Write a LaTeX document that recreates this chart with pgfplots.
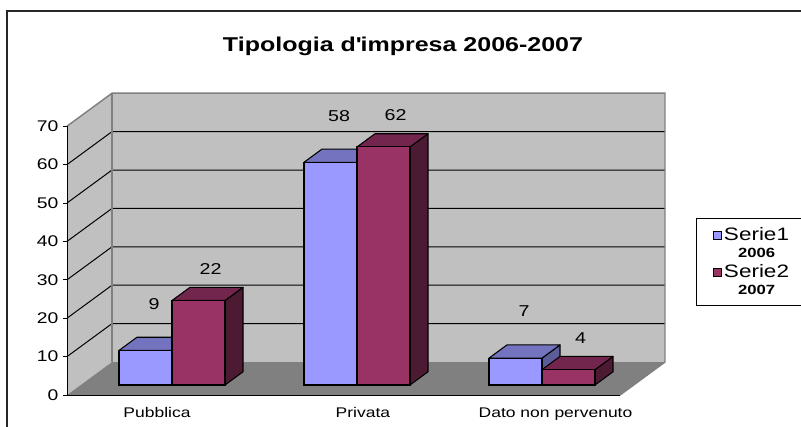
\documentclass[border=0pt]{standalone}
\usepackage{fontspec}
\setmainfont{Liberation Sans}[FakeStretch=1.25]
\usepackage{pgfplots}
\usepackage{pgfplotstable}
\pgfplotsset{compat=1.18}

\definecolor{sAfront}{HTML}{9999FF}
\definecolor{sAtop}{HTML}{7373BF}
\definecolor{sAside}{HTML}{5C5C99}
\definecolor{sBfront}{HTML}{993366}
\definecolor{sBtop}{HTML}{73264D}
\definecolor{sBside}{HTML}{4D1A33}
\definecolor{wall}{HTML}{C0C0C0}
\definecolor{floorc}{HTML}{808080}

\pgfplotstableread{
x s1 s2
0 9 22
1 58 62
2 7 4
}\datatable

% geometry (axis units)
\def\bw{0.2865}
\def\ddx{0.0973}
\def\ddy{3.44}

\newcommand\facesfor[4]{%
  \pgfplotsforeachungrouped \r in {0,1,2}{%
    \pgfplotstablegetelem{\r}{#1}\of\datatable
    \pgfmathsetmacro\v{\pgfplotsretval}%
    \pgfmathsetmacro\a{\r+#2}%
    \pgfmathsetmacro\b{\a+\bw}%
    \pgfmathsetmacro\ad{\a+\ddx}%
    \pgfmathsetmacro\bd{\b+\ddx}%
    \pgfmathsetmacro\vd{\v+\ddy}%
    \edef\temp{\noexpand\addplot[fill=#4,draw=black,line width=0.8pt,line join=round,forget plot] coordinates {(\b,0) (\b,\v) (\bd,\vd) (\bd,\ddy)} --cycle;
      \noexpand\addplot[fill=#3,draw=black,line width=0.8pt,line join=round,forget plot] coordinates {(\a,\v) (\ad,\vd) (\bd,\vd) (\b,\v)} --cycle;}%
    \temp
  }}
\newcommand\legname[1]{\makebox[52pt][l]{#1}}
\newcommand\legyear[1]{\makebox[52pt][l]{\makebox[49pt][c]{\fontsize{10}{10}\selectfont\bfseries #1}}}

\begin{document}
\begin{tikzpicture}
\draw[line width=1.1pt, black!85] (5.25pt,311.25pt) rectangle (610pt,-10pt);
\node[font=\fontsize{15}{15}\selectfont\bfseries] at (302.25pt,284.5pt) {Tipologia d\textquotesingle impresa 2006-2007};
\begin{axis}[
  at={(50.25pt,23.25pt)}, anchor=south west,
  x=138.75pt, y=2.88pt,
  xmin=-0.5676, xmax=2.6649, ymin=-2.604, ymax=75.99,
  clip=false,
  axis line style={draw=none},
  xtick={-0.081,1.032,2.073},
  xticklabels={Pubblica,Privata,Dato non pervenuto},
  xtick style={draw=none},
  xticklabel style={font=\fontsize{10.5}{10.5}\selectfont, yshift=-3pt},
  ytick={-2.604,7.396,17.396,27.396,37.396,47.396,57.396,67.396},
  yticklabels={0,10,20,30,40,50,60,70},
  ytick pos=left,
  tick align=outside,
  major tick length=3pt,
  ytick style={black, line width=0.6pt},
  yticklabel style={font=\fontsize{11.6}{11.6}\selectfont},
  /pgf/number format/assume math mode=true,
  legend style={at={(1.0518,0.5875)}, anchor=north west, draw=black, line width=0.6pt,
    font=\fontsize{13.5}{13.5}\selectfont, inner xsep=6pt, inner ysep=5pt,
    row sep=0pt, legend cell align=left,
    /tikz/every even column/.append style={column sep=2pt}},
]
% walls and floor
\fill[wall] (axis cs:-0.3243,5.99) rectangle (axis cs:2.6649,75.99);
\fill[wall] (axis cs:-0.5676,-2.604) -- (axis cs:-0.3243,5.99) -- (axis cs:-0.3243,75.99) -- (axis cs:-0.5676,67.396) -- cycle;
\fill[floorc] (axis cs:-0.5676,-2.604) -- (axis cs:-0.3243,5.99) -- (axis cs:2.6649,5.99) -- (axis cs:2.4216,-2.604) -- cycle;
\pgfplotsinvokeforeach{10,20,30,40,50,60}{
  \draw[black, line width=0.75pt] (axis cs:-0.5676,{#1-2.604}) -- (axis cs:-0.3243,{#1+5.99}) -- (axis cs:2.6649,{#1+5.99});
}
\draw[floorc, line width=1.1pt] (axis cs:-0.5676,67.396) -- (axis cs:-0.3243,75.99) -- (axis cs:2.6649,75.99) -- (axis cs:2.6649,5.99) -- (axis cs:2.4216,-2.604);
\draw[floorc, line width=1.1pt] (axis cs:-0.3243,75.99) -- (axis cs:-0.3243,5.99);
\draw[black, line width=0.75pt] (axis cs:-0.5676,67.396) -- (axis cs:-0.5676,-2.604) -- (axis cs:2.4216,-2.604);
% series 1
\facesfor{s1}{-0.2865}{sAtop}{sAside}
\addplot[ybar, bar width=0.2865, bar shift=-0.14325, fill=sAfront, draw=black, line width=0.8pt,
  nodes near coords,
  every node near coord/.append style={anchor=center, yshift=35pt, xshift=-13.5pt, font=\fontsize{11.8}{11.8}\selectfont, text=black},
  legend image code/.code={\path (0pt,0pt); \draw[fill=sAfront,draw=black,line width=0.6pt] (6pt,-3pt) rectangle (12pt,3pt);}]
  table[x=x,y=s1]{\datatable};
\addlegendentry{\legname{Serie1}}
\addlegendimage{empty legend}
\addlegendentry{\legyear{2006}}
% series 2
\facesfor{s2}{0}{sBtop}{sBside}
\addplot[ybar, bar width=0.2865, bar shift=0.14325, fill=sBfront, draw=black, line width=0.8pt,
  nodes near coords,
  every node near coord/.append style={anchor=center, yshift=24pt, xshift=29pt, font=\fontsize{11.8}{11.8}\selectfont, text=black},
  legend image code/.code={\path (0pt,0pt); \draw[fill=sBfront,draw=black,line width=0.6pt] (6pt,-3pt) rectangle (12pt,3pt);}]
  table[x=x,y=s2]{\datatable};
\addlegendentry{\legname{Serie2}}
\addlegendimage{empty legend}
\addlegendentry{\legyear{2007}}
\end{axis}
\pgfresetboundingbox
\path[use as bounding box] (0,0) rectangle (600.75pt,319.5pt);
\end{tikzpicture}
\end{document}
